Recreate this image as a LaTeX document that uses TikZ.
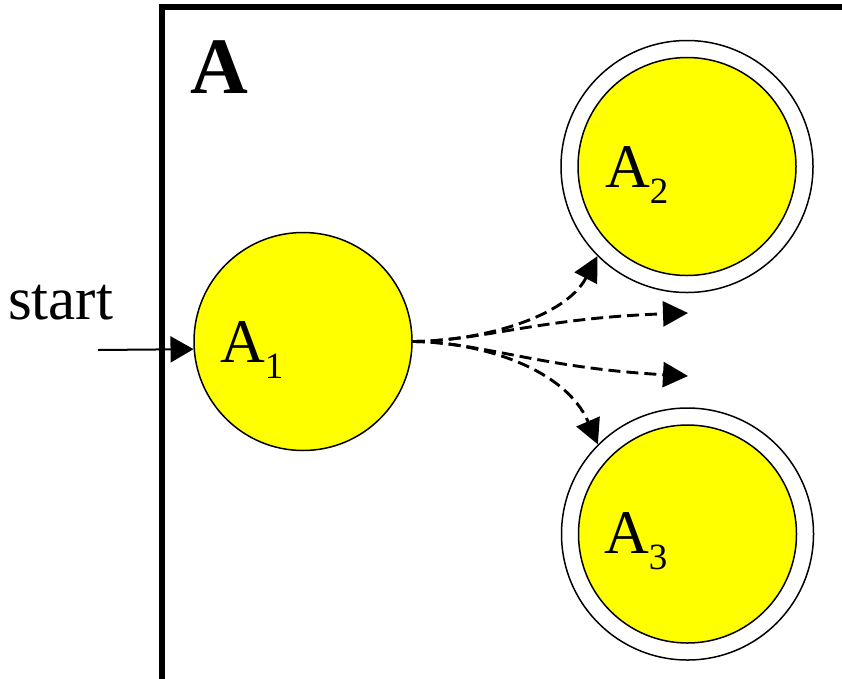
\documentclass[tikz,border=0pt]{standalone}
\usepackage{fontspec}
\setmainfont{Liberation Serif}
\usetikzlibrary{arrows.meta}
\definecolor{stateyellow}{RGB}{255,255,0}

\begin{document}
\begin{tikzpicture}[x=1pt,y=-1pt,
  state/.style={circle,draw,line width=1.5pt,fill=stateyellow,minimum size=218pt,inner sep=0pt},
  ring/.style={circle,draw,line width=1.5pt,fill=white,minimum size=252pt,inner sep=0pt},
  lbl/.style={anchor=base west,inner sep=0pt,font=\fontsize{62}{62}\selectfont},
  move/.style={line width=2.9pt,dash pattern=on 12pt off 6pt,-{Triangle[length=25pt,width=25pt]}},
  entry/.style={line width=2pt,-{Triangle[length=23pt,width=26pt]}}]
  \useasboundingbox (0,0) rectangle (842,678);

  % enclosing frame of the automaton A
  \draw[line width=5.5pt] (162,680) |- (844,7);
  \node[anchor=base west,inner sep=0pt,font=\fontsize{80}{80}\selectfont\bfseries] (title) at (190,93) {A};

  % states
  \node[state] (a1) at (303,341.5) {};
  \node[ring] (a2o) at (687,166.5) {};
  \node[state] (a2) at (687,166.5) {};
  \node[ring] (a3o) at (687.5,534) {};
  \node[state] (a3) at (687.5,534) {};

  \node[lbl] (l1) at (220,362) {A\raisebox{-16pt}{\fontsize{37}{37}\selectfont 1}};
  \node[lbl] (l2) at (605,187) {A\raisebox{-16pt}{\fontsize{37}{37}\selectfont 2}};
  \node[lbl] (l3) at (604,553) {A\raisebox{-16pt}{\fontsize{37}{37}\selectfont 3}};

  % initial arrow
  \node[anchor=base west,inner sep=0pt,font=\fontsize{61}{61}\selectfont] (start) at (8,319) {start};
  \coordinate (s0) at (98,350);
  \draw[entry] (s0) -- (a1.184.5);

  % outgoing transitions
  \coordinate (e2) at (688,313);
  \coordinate (e3) at (688,376);
  \draw[move] (a1.east) .. controls (480,341) and (565,318) .. (a2o.225);
  \draw[move] (a1.east) .. controls (480,341) and (540,318) .. (e2);
  \draw[move] (a1.east) .. controls (480,342) and (540,368) .. (e3);
  \draw[move] (a1.east) .. controls (480,342) and (565,368) .. (a3o.135);
\end{tikzpicture}
\end{document}
